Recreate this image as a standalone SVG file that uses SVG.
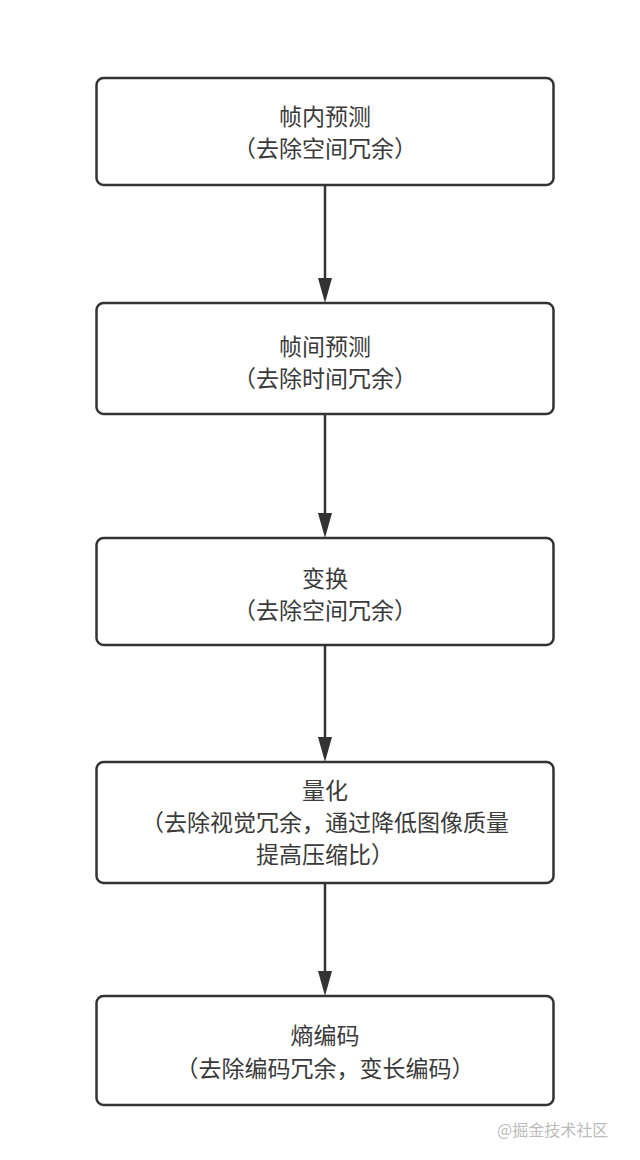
<svg xmlns="http://www.w3.org/2000/svg" width="640" height="1160" viewBox="0 0 640 1160">
<style>
.box{fill:#fff;stroke:#333;stroke-width:2.5}
.t{font-family:"Noto Sans CJK SC","Liberation Sans",sans-serif;font-size:23px;fill:#3a3a3a;text-anchor:middle}
.edge{stroke:#333;stroke-width:2.5;fill:none}
.head{fill:#333}
.wm{font-family:"Noto Sans CJK SC","Liberation Sans",sans-serif;font-size:16px;fill:#bbb}
</style>
<rect width="640" height="1160" fill="#fff"/>
<g id="connectors">
<line class="edge" x1="325" y1="185" x2="325" y2="282"/><path class="head" d="M318,278 L332,278 L325,303 Z"/>
<line class="edge" x1="325" y1="414" x2="325" y2="517"/><path class="head" d="M318,513 L332,513 L325,538 Z"/>
<line class="edge" x1="325" y1="645" x2="325" y2="741"/><path class="head" d="M318,737 L332,737 L325,762 Z"/>
<line class="edge" x1="325" y1="883" x2="325" y2="975"/><path class="head" d="M318,971 L332,971 L325,996 Z"/>
</g>
<g id="n1"><rect class="box" x="96.5" y="78" width="457" height="107" rx="7"/>
<text class="t" x="325" y="125">帧内预测</text><text class="t" x="325" y="157">（去除空间冗余）</text></g>
<g id="n2"><rect class="box" x="96.5" y="303" width="457" height="111" rx="7"/>
<text class="t" x="325" y="355">帧间预测</text><text class="t" x="325" y="387">（去除时间冗余）</text></g>
<g id="n3"><rect class="box" x="96.5" y="538" width="457" height="107" rx="7"/>
<text class="t" x="325" y="587">变换</text><text class="t" x="325" y="619">（去除空间冗余）</text></g>
<g id="n4"><rect class="box" x="96.5" y="762" width="457" height="121" rx="7"/>
<text class="t" x="325" y="799">量化</text><text class="t" x="325" y="831">（去除视觉冗余，通过降低图像质量</text><text class="t" x="325" y="863">提高压缩比）</text></g>
<g id="n5"><rect class="box" x="96.5" y="996" width="457" height="109" rx="7"/>
<text class="t" x="325" y="1044">熵编码</text><text class="t" x="325" y="1077">（去除编码冗余，变长编码）</text></g>
<text class="wm" x="497" y="1136">@掘金技术社区</text>
</svg>
